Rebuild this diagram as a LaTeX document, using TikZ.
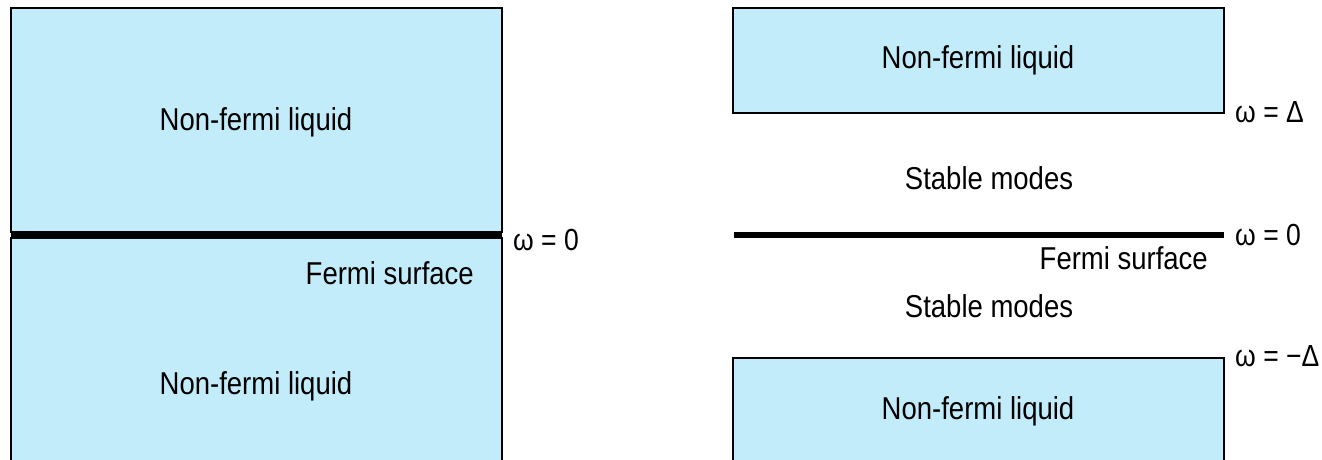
\documentclass[tikz,border=0pt]{standalone}
\usepackage{fontspec}
\usepackage{graphicx}
\setmainfont{Liberation Sans}
\definecolor{bandfill}{RGB}{195,236,250}
% slightly tall lettering
\newcommand{\tallText}[1]{\scalebox{1}[1.15]{#1}}
\begin{document}
\begin{tikzpicture}[x=1pt,y=-1pt,
  band/.style={fill=bandfill,draw=black,line width=1.6pt},
  fermi/.style={line width=6pt,black},
  lbl/.style={inner sep=0pt,font=\fontsize{27.5}{32}\selectfont},
  level/.style={inner sep=0pt,anchor=base west,font=\fontsize{26.5}{30}\selectfont}]
\useasboundingbox[fill=white] (0,0) rectangle (1322,460);

% left panel: gapless spectrum
\path[band] (11,8) rectangle (502,232);
\fill[bandfill] (11,238) rectangle (502,470);
\draw[black,line width=1.6pt] (11,470) -- (11,238) -- (502,238) -- (502,470);
\coordinate (lf0) at (11,235);
\coordinate (lf1) at (502,235);
\draw[fermi] (lf0) -- (lf1);
\node[lbl,anchor=base] (lnfl1) at (256,130) {\tallText{Non-fermi liquid}};
\node[lbl,anchor=base] (lnfl2) at (256,394) {\tallText{Non-fermi liquid}};
\node[lbl,anchor=base east] (lfs) at (474,284) {\tallText{Fermi surface}};
\node[level] (lw0) at (513,250) {\tallText{ω = 0}};

% right panel: gapped spectrum
\path[band] (733,8) rectangle (1224,113);
\fill[bandfill] (733,358) rectangle (1224,470);
\draw[black,line width=1.6pt] (733,470) -- (733,358) -- (1224,358) -- (1224,470);
\coordinate (rf0) at (734,235);
\coordinate (rf1) at (1224,235);
\draw[fermi] (rf0) -- (rf1);
\node[lbl,anchor=base] (rnfl1) at (978,69) {\tallText{Non-fermi liquid}};
\node[lbl,anchor=base] (rnfl2) at (978,419) {\tallText{Non-fermi liquid}};
\node[lbl,anchor=base] (rsm1) at (989,189) {\tallText{Stable modes}};
\node[lbl,anchor=base] (rsm2) at (989,317) {\tallText{Stable modes}};
\node[lbl,anchor=base east] (rfs) at (1208,269) {\tallText{Fermi surface}};
\node[level] (rwd) at (1235,122) {\tallText{ω = Δ}};
\node[level] (rw0) at (1235,245) {\tallText{ω = 0}};
\node[level] (rwm) at (1235,366) {\tallText{ω = −Δ}};
\end{tikzpicture}
\end{document}
